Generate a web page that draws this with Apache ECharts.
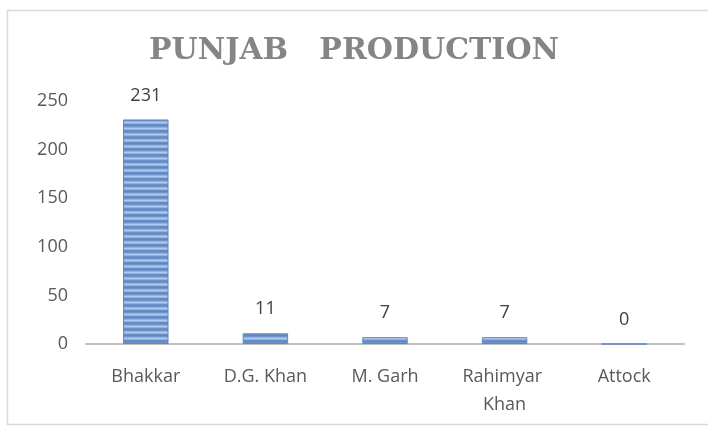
<!DOCTYPE html>
<html>
<head>
<meta charset="utf-8">
<script src="https://cdn.jsdelivr.net/npm/echarts@6/dist/echarts.min.js"></script>
<style>
  html, body { margin: 0; padding: 0; background: #fff; }
  #main { width: 708px; height: 430px; }
</style>
</head>
<body>
<div id="main"></div>
<script>
// data
const districts = ['Bhakkar', 'D.G. Khan', 'M. Garh', 'Rahimyar Khan', 'Attock'];
const production = [231, 11, 7, 7, 0];
const yTicks = [0, 50, 100, 150, 200, 250];

// striped fill for the bars
function stripes() {
    const c = document.createElement('canvas');
    c.width = 4; c.height = 6;
    const ctx = c.getContext('2d');
    const rows = ['#6f95cf', '#8fb0e0', '#b3cbee', '#90b0df', '#6b91cb', '#5e86c3'];
    rows.forEach((col, i) => { ctx.fillStyle = col; ctx.fillRect(0, i, 4, 1); });
    return c;
}

const myChart = echarts.init(document.getElementById('main'));
const option = {
    animation: false,
    backgroundColor: '#fff',
    graphic: [{
        type: 'rect',
        shape: { x: 7.5, y: 10.5, width: 720, height: 414 },
        style: { fill: 'none', stroke: '#d9d9d9', lineWidth: 1.5 },
        silent: true
    }],
    title: {
        text: 'PUNJAB   PRODUCTION',
        left: 'center',
        top: 31,
        textStyle: {
            fontFamily: 'DejaVu Serif',
            fontWeight: 'bold',
            fontSize: 30,
            color: '#858585'
        }
    },
    grid: { left: 86, right: 24, top: 101, bottom: 86 },
    xAxis: {
        type: 'category',
        data: districts,
        axisLine: { lineStyle: { color: '#bfbfbf', width: 2 } },
        axisTick: { show: false },
        axisLabel: {
            interval: 0,
            margin: 19,
            fontFamily: 'Open Sans',
            fontSize: 18,
            color: '#595959',
            width: 100,
            overflow: 'break',
            lineHeight: 28
        }
    },
    yAxis: {
        type: 'value',
        min: yTicks[0],
        max: yTicks[yTicks.length - 1],
        interval: 50,
        axisLine: { show: false },
        axisTick: { show: false },
        splitLine: { show: false },
        axisLabel: {
            margin: 18,
            fontFamily: 'Open Sans',
            fontSize: 18,
            color: '#595959'
        }
    },
    series: [{
        type: 'bar',
        data: production,
        barWidth: '38%',
        itemStyle: {
            color: { image: stripes(), repeat: 'repeat' },
            borderColor: '#5f86c2',
            borderWidth: 1
        },
        label: {
            show: true,
            position: 'top',
            distance: 15,
            fontFamily: 'Open Sans',
            fontSize: 18,
            color: '#404040'
        }
    }]
};
myChart.setOption(option);
</script>
</body>
</html>
